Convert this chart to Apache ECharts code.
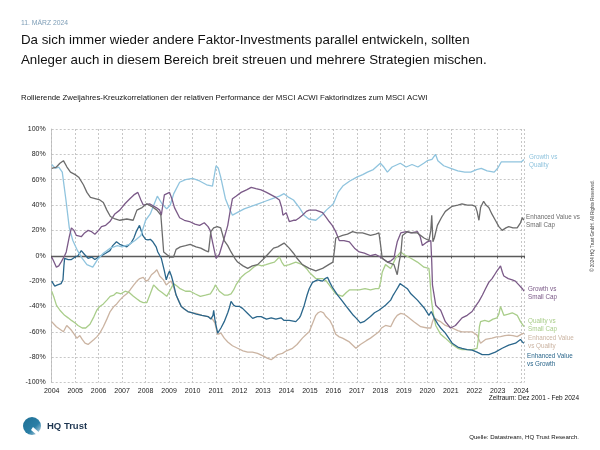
<!DOCTYPE html>
<html><head><meta charset="utf-8">
<script src="https://cdn.jsdelivr.net/npm/echarts@6/dist/echarts.min.js"></script>
<style>html,body{margin:0;padding:0;background:#fff}#c{width:600px;height:450px}</style>
</head><body><div id="c"></div>
<script>
// ---- data (decimal year, correlation in %) ----
const growthVsQuality = [[2004.0,72],[2004.15,69],[2004.3,70],[2004.45,66],[2004.6,45],[2004.75,22],[2004.9,12],[2005.1,4],[2005.3,-2],[2005.5,-7],[2005.75,-9],[2005.95,-3],[2006.2,2],[2006.5,6],[2006.8,8],[2007.0,7],[2007.3,9],[2007.55,12],[2007.8,16],[2008.0,28],[2008.2,33],[2008.35,40],[2008.5,47],[2008.7,41],[2008.9,37],[2009.05,40],[2009.2,49],[2009.45,58],[2009.7,60],[2010.0,61],[2010.3,59],[2010.6,56],[2010.85,55],[2011.0,71],[2011.1,69],[2011.2,62],[2011.4,45],[2011.55,38],[2011.7,32],[2011.9,34],[2012.2,37],[2012.5,39],[2012.8,41],[2013.1,43],[2013.4,45],[2013.7,47],[2013.9,49],[2014.1,46],[2014.3,44],[2014.55,38],[2014.75,32],[2014.95,29],[2015.25,28],[2015.5,32],[2015.7,36],[2016.0,41],[2016.2,50],[2016.4,55],[2016.7,59],[2017.0,62],[2017.25,64],[2017.45,66],[2017.7,68],[2018.0,73],[2018.15,70],[2018.3,66],[2018.5,70],[2018.85,73],[2019.1,70],[2019.35,72],[2019.6,70],[2019.85,73],[2020.0,75],[2020.2,76],[2020.35,80],[2020.45,75],[2020.7,71],[2021.0,69],[2021.3,67],[2021.6,66],[2021.85,66],[2022.1,68],[2022.3,69],[2022.55,67],[2022.85,66],[2023.0,69],[2023.15,74],[2023.5,74],[2023.8,74],[2024.0,74],[2024.12,76]];
const enhValueVsSmallCap = [[2004.0,69],[2004.2,70],[2004.35,73],[2004.5,75],[2004.65,70],[2004.8,66],[2005.0,64],[2005.15,62],[2005.35,56],[2005.5,50],[2005.65,46],[2005.85,45],[2006.05,44],[2006.2,42],[2006.35,36],[2006.5,31],[2006.7,29],[2006.9,28],[2007.2,29],[2007.47,28],[2007.63,36],[2007.85,38],[2008.05,41],[2008.25,39],[2008.48,36],[2008.65,32],[2008.72,31],[2008.77,3],[2008.9,1],[2009.05,-1],[2009.19,-1],[2009.3,5],[2009.48,7],[2009.7,8],[2009.9,9],[2010.15,7],[2010.35,6],[2010.55,4],[2010.68,3],[2010.78,19],[2010.9,22],[2011.05,23],[2011.2,22],[2011.35,12],[2011.5,8],[2011.64,3],[2011.8,-2],[2011.92,-5],[2012.15,-8],[2012.35,-10],[2012.55,-8],[2012.77,-7],[2013.0,-3],[2013.2,1],[2013.45,6],[2013.63,7],[2013.9,10],[2014.12,6],[2014.3,2],[2014.45,-2],[2014.68,-7],[2014.97,-10],[2015.25,-12],[2015.54,-10],[2015.8,-7],[2015.98,-5],[2016.05,5],[2016.1,14],[2016.39,16],[2016.6,17],[2016.82,19],[2017.0,18],[2017.24,18],[2017.58,16],[2017.8,17],[2017.94,18],[2018.0,10],[2018.08,-2],[2018.3,-5],[2018.58,-7],[2018.72,-15],[2018.8,-5],[2018.87,1],[2018.94,16],[2019.15,19],[2019.35,18],[2019.58,18],[2019.86,14],[2020.07,12],[2020.15,20],[2020.19,32],[2020.24,11],[2020.3,14],[2020.43,24],[2020.6,30],[2020.77,35],[2021.06,39],[2021.3,40],[2021.48,41],[2021.7,40],[2021.91,40],[2022.05,39],[2022.12,35],[2022.2,28],[2022.27,38],[2022.4,43],[2022.5,40],[2022.62,38],[2022.75,33],[2022.9,28],[2023.05,23],[2023.19,20],[2023.35,22],[2023.47,23],[2023.65,22],[2023.83,22],[2023.97,26],[2024.05,30],[2024.12,28]];
const growthVsSmallCap = [[2004.0,-1],[2004.1,-5],[2004.2,-9],[2004.3,-8],[2004.4,-5],[2004.55,0],[2004.62,3],[2004.75,15],[2004.84,22],[2004.95,20],[2005.05,16],[2005.26,15],[2005.4,18],[2005.55,20],[2005.7,19],[2005.84,17],[2006.0,20],[2006.12,23],[2006.3,24],[2006.48,27],[2006.69,33],[2006.9,36],[2007.12,41],[2007.33,45],[2007.5,48],[2007.67,50],[2007.8,44],[2007.9,40],[2008.17,41],[2008.45,38],[2008.6,36],[2008.67,32],[2008.75,42],[2008.8,48],[2009.02,50],[2009.12,45],[2009.23,38],[2009.45,30],[2009.65,28],[2009.87,27],[2010.1,25],[2010.3,24],[2010.5,26],[2010.66,23],[2010.75,20],[2010.85,11],[2011.0,-2],[2011.14,1],[2011.35,14],[2011.5,24],[2011.6,35],[2011.7,45],[2011.85,47],[2012.07,50],[2012.3,52],[2012.5,54],[2012.7,53],[2012.92,52],[2013.15,50],[2013.35,48],[2013.55,46],[2013.7,44],[2013.8,38],[2013.85,32],[2013.99,34],[2014.12,27],[2014.3,28],[2014.4,28],[2014.55,30],[2014.68,32],[2014.85,35],[2014.97,36],[2015.25,36],[2015.4,35],[2015.54,34],[2015.7,30],[2015.82,27],[2015.95,24],[2016.1,19],[2016.25,12],[2016.45,12],[2016.68,11],[2016.9,6],[2017.1,3],[2017.32,2],[2017.58,0],[2017.8,1],[2018.0,-1],[2018.15,-3],[2018.3,-5],[2018.45,-4],[2018.58,-2],[2018.65,5],[2018.72,11],[2018.87,18],[2019.1,19],[2019.3,18],[2019.58,19],[2019.7,15],[2019.79,8],[2020.0,11],[2020.15,12],[2020.19,-5],[2020.22,-23],[2020.36,-39],[2020.57,-43],[2020.77,-52],[2020.99,-57],[2021.2,-55],[2021.48,-49],[2021.7,-47],[2021.91,-44],[2022.05,-40],[2022.2,-36],[2022.35,-31],[2022.48,-26],[2022.62,-21],[2022.76,-18],[2022.9,-14],[2022.97,-12],[2023.05,-10],[2023.12,-8],[2023.2,-13],[2023.26,-16],[2023.45,-18],[2023.62,-19],[2023.75,-20],[2023.9,-23],[2024.05,-26],[2024.12,-28]];
const qualityVsSmallCap = [[2004.0,-28],[2004.1,-33],[2004.2,-39],[2004.35,-43],[2004.55,-47],[2004.7,-49],[2004.84,-51],[2005.0,-53],[2005.12,-55],[2005.3,-57],[2005.45,-57],[2005.63,-54],[2005.8,-48],[2005.92,-43],[2006.05,-40],[2006.2,-38],[2006.35,-35],[2006.49,-32],[2006.65,-31],[2006.77,-29],[2006.95,-30],[2007.13,-28],[2007.3,-29],[2007.48,-32],[2007.62,-34],[2007.77,-36],[2007.9,-37],[2008.05,-37],[2008.2,-30],[2008.34,-23],[2008.45,-25],[2008.55,-27],[2008.7,-29],[2008.9,-32],[2009.05,-27],[2009.19,-22],[2009.35,-24],[2009.47,-26],[2009.7,-28],[2009.9,-28],[2010.1,-30],[2010.33,-32],[2010.55,-31],[2010.76,-30],[2010.9,-26],[2010.97,-23],[2011.14,-28],[2011.35,-31],[2011.5,-31],[2011.64,-30],[2011.75,-27],[2011.85,-23],[2012.07,-17],[2012.25,-14],[2012.42,-12],[2012.6,-9],[2012.77,-7],[2012.95,-8],[2013.13,-7],[2013.3,-6],[2013.49,-5],[2013.7,-1],[2013.8,-5],[2013.91,-8],[2014.12,-7],[2014.4,-5],[2014.68,-7],[2014.85,-10],[2014.97,-13],[2015.25,-18],[2015.54,-18],[2015.7,-20],[2015.82,-23],[2016.1,-30],[2016.39,-32],[2016.55,-29],[2016.68,-27],[2016.9,-27],[2017.1,-27],[2017.35,-26],[2017.58,-27],[2017.8,-26],[2017.94,-26],[2018.02,-20],[2018.08,-13],[2018.22,-7],[2018.44,-10],[2018.55,-6],[2018.65,-2],[2018.87,3],[2019.0,1],[2019.3,-2],[2019.58,-5],[2019.86,-9],[2020.07,-10],[2020.12,-20],[2020.17,-34],[2020.25,-45],[2020.36,-55],[2020.57,-62],[2020.77,-65],[2021.06,-70],[2021.3,-73],[2021.48,-74],[2021.7,-74],[2021.91,-74],[2022.12,-73],[2022.18,-65],[2022.22,-56],[2022.27,-52],[2022.45,-51],[2022.62,-52],[2022.8,-50],[2022.97,-49],[2023.05,-46],[2023.12,-40],[2023.2,-44],[2023.26,-47],[2023.45,-46],[2023.62,-45],[2023.83,-47],[2023.97,-52],[2024.12,-56]];
const enhValueVsQuality = [[2004.0,-52],[2004.1,-54],[2004.2,-56],[2004.35,-58],[2004.5,-60],[2004.64,-55],[2004.75,-57],[2004.85,-59],[2005.0,-63],[2005.07,-65],[2005.2,-63],[2005.3,-66],[2005.42,-69],[2005.55,-70],[2005.63,-69],[2005.8,-66],[2005.92,-64],[2006.05,-61],[2006.2,-56],[2006.35,-50],[2006.49,-44],[2006.65,-40],[2006.77,-38],[2006.9,-35],[2007.06,-32],[2007.2,-30],[2007.34,-27],[2007.5,-23],[2007.63,-20],[2007.75,-18],[2007.9,-17],[2008.02,-20],[2008.12,-19],[2008.25,-15],[2008.38,-13],[2008.48,-11],[2008.6,-16],[2008.76,-19],[2008.88,-23],[2009.0,-21],[2009.09,-20],[2009.2,-25],[2009.3,-31],[2009.42,-36],[2009.52,-40],[2009.65,-42],[2009.8,-44],[2010.0,-45],[2010.16,-45.5],[2010.4,-47],[2010.66,-48],[2010.85,-50],[2010.95,-53],[2011.07,-62],[2011.15,-63],[2011.21,-61],[2011.35,-65],[2011.5,-68],[2011.7,-71],[2011.92,-73],[2012.15,-75],[2012.35,-76],[2012.55,-76],[2012.77,-77],[2013.0,-79],[2013.2,-81],[2013.35,-82],[2013.5,-80],[2013.63,-78],[2013.83,-77],[2014.0,-75],[2014.26,-73],[2014.45,-70],[2014.68,-65],[2014.85,-62],[2014.97,-60],[2015.1,-54],[2015.25,-47],[2015.35,-45],[2015.46,-44],[2015.58,-45],[2015.68,-48],[2015.85,-51],[2015.96,-55],[2016.1,-62],[2016.25,-64],[2016.39,-65],[2016.68,-68],[2016.96,-73],[2017.15,-70],[2017.4,-67],[2017.58,-65],[2017.8,-62],[2017.94,-60],[2018.05,-57],[2018.22,-55],[2018.44,-56],[2018.6,-50],[2018.72,-47],[2018.87,-45.5],[2019.0,-46],[2019.15,-48],[2019.43,-52],[2019.72,-56],[2020.0,-57],[2020.15,-57],[2020.22,-52],[2020.29,-49],[2020.45,-51],[2020.57,-52],[2020.77,-55],[2021.06,-57],[2021.3,-59],[2021.48,-60],[2021.7,-60],[2021.91,-60],[2022.12,-62.6],[2022.2,-66],[2022.27,-69],[2022.48,-66],[2022.76,-65],[2022.95,-64],[2023.12,-63.8],[2023.3,-63],[2023.47,-62.6],[2023.65,-63],[2023.83,-63.8],[2024.0,-62],[2024.12,-61]];
const enhValueVsGrowth = [[2004.0,-20],[2004.13,-24],[2004.25,-23],[2004.4,-22],[2004.48,-19],[2004.52,-8],[2004.55,-2],[2004.7,-3],[2004.84,-3],[2005.0,-1],[2005.12,0],[2005.26,4],[2005.4,1],[2005.55,-2],[2005.7,-1],[2005.84,-3],[2006.0,-1],[2006.12,0],[2006.3,2],[2006.48,4],[2006.6,8],[2006.76,11],[2006.9,9],[2007.04,8],[2007.2,7],[2007.38,10],[2007.5,14],[2007.6,19],[2007.74,24],[2007.88,16],[2008.0,13],[2008.1,12.5],[2008.2,13],[2008.31,11],[2008.45,7],[2008.52,3],[2008.67,-2],[2008.8,-12],[2008.88,-19],[2008.95,-15],[2009.02,-12],[2009.1,-16],[2009.16,-20],[2009.3,-31],[2009.42,-36],[2009.52,-40],[2009.65,-42],[2009.8,-44],[2010.0,-45],[2010.16,-46],[2010.4,-47],[2010.66,-48],[2010.78,-50],[2010.87,-47],[2010.9,-43],[2010.95,-50],[2011.0,-55],[2011.07,-61],[2011.14,-60],[2011.21,-57],[2011.35,-52],[2011.5,-45],[2011.57,-41],[2011.64,-36],[2011.75,-39],[2011.85,-40],[2012.0,-40],[2012.13,-41.5],[2012.35,-45.5],[2012.56,-49.4],[2012.75,-48],[2012.92,-48],[2013.15,-50],[2013.35,-49],[2013.55,-50],[2013.77,-49],[2013.9,-51],[2014.12,-51],[2014.4,-52],[2014.55,-49],[2014.61,-47],[2014.76,-39],[2014.88,-31],[2014.97,-26],[2015.11,-21],[2015.32,-19],[2015.54,-20],[2015.65,-18],[2015.75,-17],[2015.85,-21],[2015.96,-25],[2016.18,-31],[2016.39,-36],[2016.55,-40],[2016.68,-43],[2016.85,-47],[2016.96,-49],[2017.15,-53],[2017.3,-52],[2017.58,-48],[2017.75,-45],[2017.94,-43],[2018.22,-39],[2018.44,-35],[2018.55,-31],[2018.65,-28],[2018.75,-25],[2018.84,-22],[2019.0,-24],[2019.15,-26],[2019.3,-30],[2019.58,-35],[2019.86,-41],[2020.07,-47],[2020.12,-48],[2020.17,-44],[2020.29,-49],[2020.45,-54],[2020.57,-57],[2020.77,-61],[2021.06,-69],[2021.3,-72],[2021.48,-73],[2021.7,-74],[2021.91,-74.4],[2022.12,-76],[2022.34,-78],[2022.5,-78],[2022.62,-78],[2022.9,-76],[2023.19,-73],[2023.47,-70.5],[2023.76,-69],[2023.97,-66],[2024.05,-68],[2024.12,-69]];

const seriesNames = ['Growth vs Quality','Enhanced Value vs Small Cap','Growth vs Small Cap','Quality vs Small Cap','Enhanced Value vs Quality','Enhanced Value vs Growth'];
const endLabels = ['Growth vs\nQuality','Enhanced Value vs\nSmall Cap','Growth vs\nSmall Cap','Quality vs\nSmall Cap','Enhanced Value\nvs Quality','Enhanced Value\nvs Growth'];
const yTicks = [-100,-80,-60,-40,-20,0,20,40,60,80,100];

const colors = ['#90c4de','#6c6c6c','#7b5a88','#a9cd8a','#cbb4a2','#2a668b'];
const seriesData = [growthVsQuality, enhValueVsSmallCap, growthVsSmallCap, qualityVsSmallCap, enhValueVsQuality, enhValueVsGrowth];
const labelPos = [[529,153],[526,213],[528,285],[528,317],[528,334],[527,352]];

const FONT = '"Liberation Sans", Arial, Helvetica, sans-serif';
const chart = echarts.init(document.getElementById('c'), null, {renderer:'canvas'});

const drawOrder = [4,3,5,0,2,1];
const series = drawOrder.map(i => ({
  name: seriesNames[i], type:'line', data: seriesData[i], showSymbol:false, symbol:'none',
  lineStyle:{color:colors[i], width:1.3}, itemStyle:{color:colors[i]}, z: 3, animation:false
}));

const graphics = [
  {type:'text', left:21, top:20, style:{text:'11. MÄRZ 2024', font:'6.8px '+FONT, fill:'#7d9db6'}},
  {type:'text', left:21, top:30, style:{text:'Da sich immer wieder andere Faktor-Investments parallel entwickeln, sollten\nAnleger auch in diesem Bereich breit streuen und mehrere Strategien mischen.', font:'13.3px '+FONT, fill:'#111', lineHeight:20}},
  {type:'text', left:21, top:94, style:{text:'Rollierende Zweijahres-Kreuzkorrelationen der relativen Performance der MSCI ACWI Faktorindizes zum MSCI ACWI', font:'7.8px '+FONT, fill:'#111'}},
  {type:'text', right:21, top:395, style:{text:'Zeitraum: Dez 2001 - Feb 2024', font:'6.5px '+FONT, fill:'#111'}},
  {type:'text', right:21, top:434, style:{text:'Quelle: Datastream, HQ Trust Research.', font:'6.1px '+FONT, fill:'#111'}},
  {type:'text', x:593, y:226, rotation:Math.PI/2, style:{text:'© 2024 HQ Trust GmbH. All Rights Reserved.', font:'4.5px '+FONT, fill:'#444', textAlign:'center', textVerticalAlign:'middle'}},
  {type:'circle', shape:{cx:32, cy:426, r:9}, style:{fill:new echarts.graphic.LinearGradient(0,0,1,1,[{offset:0,color:'#1f6f94'},{offset:0.6,color:'#2b7fa6'},{offset:1,color:'#d6e6ef'}])}},
  {type:'polygon', shape:{points:[[33,427],[42,435],[38,436],[31,430]]}, style:{fill:'#ffffff'}},
  {type:'text', left:47, top:421, style:{text:'HQ Trust', font:'bold 9.5px '+FONT, fill:'#1d3550'}}
];
endLabels.forEach((t,i)=>{
  graphics.push({type:'text', left:labelPos[i][0], top:labelPos[i][1], style:{text:t, font:'6.3px '+FONT, fill:colors[i], lineHeight:8}});
});

const yearFmt = v => (Math.abs(v - Math.round(v)) < 1e-6 ? String(Math.round(v)) : '');

chart.setOption({
  animation:false,
  textStyle:{fontFamily:FONT},
  grid:{left:51.7, right:76, top:129, bottom:67.5, containLabel:false},
  xAxis:[{
    type:'value', min:2004, max:2024.12, interval:1, position:'bottom',
    axisLine:{show:true, lineStyle:{color:'#9a9a9a', width:1}},
    axisTick:{show:true, length:2, lineStyle:{color:'#9a9a9a'}},
    axisLabel:{formatter:yearFmt, fontSize:7, color:'#222', margin:5, fontFamily:FONT},
    splitLine:{show:true, lineStyle:{color:'#b9b9b9', width:0.8, type:[2,2]}}
  },{
    type:'value', min:2004, max:2024.12, interval:1, position:'bottom', offset:-126.75,
    axisLine:{show:true, lineStyle:{color:'#5a5a5a', width:1.3}},
    axisTick:{show:true, length:2.5, lineStyle:{color:'#5a5a5a'}},
    axisLabel:{show:false}, splitLine:{show:false}
  }],
  yAxis:{
    type:'value', min:yTicks[0], max:yTicks[yTicks.length-1], interval:20,
    axisLine:{show:true, lineStyle:{color:'#b9b9b9', width:0.8}},
    axisTick:{show:false},
    axisLabel:{formatter:'{value}%', fontSize:7, color:'#222', margin:6, fontFamily:FONT},
    splitLine:{show:true, lineStyle:{color:'#b9b9b9', width:0.8, type:[2,2]}}
  },
  series: series,
  graphic: graphics
});
</script></body></html>
